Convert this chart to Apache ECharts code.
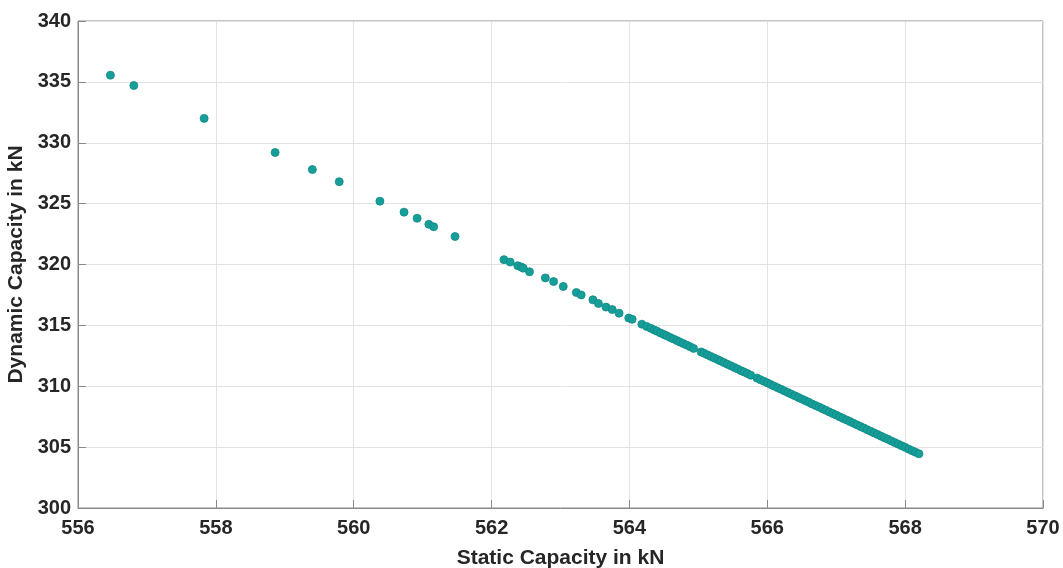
<!DOCTYPE html>
<html>
<head>
<meta charset="utf-8">
<script src="https://cdn.jsdelivr.net/npm/echarts@6/dist/echarts.min.js"></script>
<style>html,body{margin:0;padding:0;background:#fff}#c{width:1063px;height:568px}</style>
</head>
<body>
<div id="c"></div>
<script>
const staticCap = [556.47,556.81,557.83,558.86,559.40,559.79,560.38,560.73,560.92,561.09,561.16,561.47,
562.18,562.27,562.38,562.43,562.46,562.55,562.78,562.90,563.04,563.23,563.30,563.47,563.55,563.66,563.75,563.85,563.99,564.04,564.18,
564.25,564.31,564.36,564.40,564.45,564.50,564.54,564.59,564.64,564.69,564.73,564.78,564.83,564.88,564.93,565.04,565.08,565.13,565.18,565.23,565.28,565.32,565.37,565.42,565.47,565.52,565.57,565.62,565.66,565.71,565.76,565.85,565.90,565.95,566.00,
566.05,566.10,566.15,566.20,566.25,566.30,566.35,566.40,566.45,566.50,566.55,566.60,566.65,566.70,566.75,566.80,566.85,566.90,566.95,567.00,
567.05,567.10,567.15,567.20,567.25,567.30,567.35,567.40,567.45,567.50,567.55,567.60,567.65,567.70,567.75,567.80,567.85,567.90,567.95,568.00,568.05,568.10,568.15,568.20];
const dynamicCap = [335.55,334.70,332.00,329.20,327.80,326.80,325.20,324.30,323.80,323.30,323.10,322.30,
320.40,320.20,319.90,319.80,319.70,319.40,318.90,318.60,318.20,317.70,317.50,317.10,316.80,316.50,316.30,316.00,315.60,315.50,315.10,
314.91,314.76,314.62,314.52,314.38,314.25,314.15,314.01,313.88,313.75,313.64,313.51,313.38,313.25,313.11,312.82,312.72,312.58,312.45,312.32,312.19,312.08,311.95,311.81,311.68,311.55,311.42,311.28,311.18,311.05,310.91,310.67,310.54,310.41,310.28,
310.14,310.01,309.88,309.75,309.61,309.48,309.35,309.22,309.08,308.95,308.82,308.69,308.55,308.42,308.29,308.16,308.02,307.89,307.76,307.63,
307.49,307.36,307.23,307.10,306.96,306.83,306.70,306.57,306.43,306.30,306.17,306.04,305.90,305.77,305.64,305.51,305.37,305.24,305.11,304.98,304.84,304.71,304.58,304.45];
const xTicks = [556,558,560,562,564,566,568,570];
const yTicks = [300,305,310,315,320,325,330,335,340];

const pts = staticCap.map((x,i)=>[x, dynamicCap[i]]);
const chart = echarts.init(document.getElementById('c'), null, {renderer:'canvas'});
const lblFont = {fontFamily:'Liberation Sans, Arial, sans-serif', fontWeight:'bold', fontSize:20, color:'#262626'};
const nameFont = Object.assign({}, lblFont, {fontSize:21});
chart.setOption({
  animation:false,
  grid:{left:78, right:20, top:21, bottom:60, containLabel:false, outerBoundsMode:'none',
        show:true, borderColor:'#8a8a8a', borderWidth:1, backgroundColor:'transparent'},
  xAxis:{
    type:'value', min:xTicks[0], max:xTicks[xTicks.length-1], interval:2,
    name:'Static Capacity in kN', nameLocation:'middle', nameGap:40,
    nameTextStyle:nameFont,
    axisLine:{show:true, lineStyle:{color:'#8a8a8a', width:1}},
    axisTick:{show:true, inside:true, length:8, lineStyle:{color:'#8a8a8a'}},
    axisLabel:Object.assign({margin:10}, lblFont),
    splitLine:{show:true, lineStyle:{color:'#e3e3e3', width:1}}
  },
  yAxis:{
    type:'value', min:yTicks[0], max:yTicks[yTicks.length-1], interval:5,
    name:'Dynamic Capacity in kN', nameLocation:'middle', nameGap:42,
    nameTextStyle:nameFont,
    axisLine:{show:true, lineStyle:{color:'#8a8a8a', width:1}},
    axisTick:{show:true, inside:true, length:8, lineStyle:{color:'#8a8a8a'}},
    axisLabel:Object.assign({margin:7}, lblFont),
    splitLine:{show:true, lineStyle:{color:'#e3e3e3', width:1}}
  },
  series:[{
    type:'scatter', data:pts, symbol:'circle', symbolSize:8,
    itemStyle:{color:'#169e99', borderColor:'#0e8a86', borderWidth:0.8, opacity:1}
  }]
});
</script>
</body>
</html>
